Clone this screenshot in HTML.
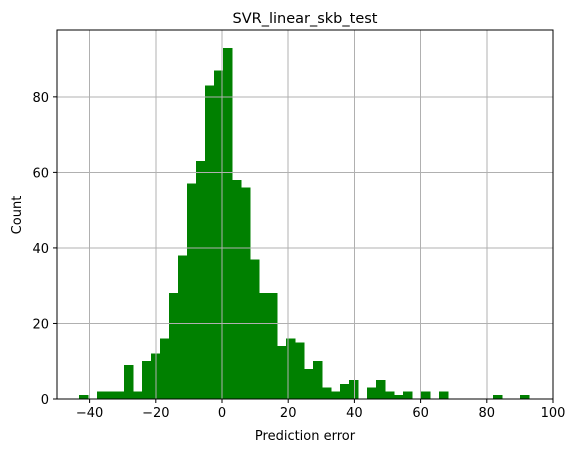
<!DOCTYPE html>
<html><head><meta charset="utf-8"><style>
body{margin:0;background:#fff;}
svg{display:block;font-family:"DejaVu Sans","Liberation Sans",sans-serif;}
</style></head><body>
<svg id="chart" width="576" height="453">
<rect x="0" y="0" width="576" height="453" fill="#fff"/>
<g id="bars" shape-rendering="crispEdges"></g>
<g id="grid" shape-rendering="crispEdges"></g>
<rect x="57" y="30" width="496" height="369" fill="none" stroke="#000" stroke-width="1" shape-rendering="crispEdges"/>
<g id="ticks"></g>
<text x="305" y="23" text-anchor="middle" font-size="14.5">SVR_linear_skb_test</text>
<text x="305" y="440" text-anchor="middle" font-size="13">Prediction error</text>
<text x="21" y="215" text-anchor="middle" font-size="13" transform="rotate(-90 21 215)">Count</text>
</svg>
<script>
const binStart = -43.2;
const binWidth = 2.72;
const counts = [1,0,2,2,2,9,2,10,12,16,28,38,57,63,83,87,93,58,56,37,28,28,14,16,15,8,10,3,2,4,5,0,3,5,2,1,2,0,2,0,2,0,0,0,0,0,1,0,0,1];
const xTicks = [-40,-20,0,20,40,60,80,100];
const yTicks = [0,20,40,60,80];
const X0=57,X1=553,Y0=399,Y1=30;
const xMin=-49.85,xMax=100,yMin=0,yMax=97.7;
const NS="http://www.w3.org/2000/svg";
function sx(v){return X0+(v-xMin)/(xMax-xMin)*(X1-X0);}
function sy(v){return Y0-(v-yMin)/(yMax-yMin)*(Y0-Y1);}
const grid=document.getElementById('grid'),bars=document.getElementById('bars'),ticks=document.getElementById('ticks');
function mk(tag,attrs,parent){const e=document.createElementNS(NS,tag);for(const k in attrs)e.setAttribute(k,attrs[k]);parent.appendChild(e);return e;}
xTicks.forEach(t=>{
  const x=sx(t);
  const g=mk('line',{x1:x,x2:x,y1:Y1,y2:Y0,stroke:'#b0b0b0','stroke-width':1},grid);
  
  
  const tk=mk('line',{x1:x,x2:x,y1:Y0,y2:Y0+4,stroke:'#000'},ticks);
  
  
  const lb=mk('text',{x:x,y:Y0+18,'text-anchor':'middle','font-size':13},ticks);
  lb.textContent=(t<0?'\u2212'+(-t):t);
  
  
});
yTicks.forEach(t=>{
  const y=sy(t);
  const g=mk('line',{x1:X0,x2:X1,y1:y,y2:y,stroke:'#b0b0b0','stroke-width':1},grid);
  
  
  const tk=mk('line',{x1:X0-4,x2:X0,y1:y,y2:y,stroke:'#000'},ticks);
  
  
  const lb=mk('text',{x:X0-8,y:y+5,'text-anchor':'end','font-size':13},ticks);
  lb.textContent=t;
  
  
});
counts.forEach((c,i)=>{
  if(c<=0)return;
  const a=sx(binStart+i*binWidth),b=sx(binStart+(i+1)*binWidth);
  const r=mk('rect',{x:a,y:sy(c),width:b-a+0.5,height:sy(0)-sy(c),fill:'#008000'},bars);
  
  
});
</script>
</body></html>
